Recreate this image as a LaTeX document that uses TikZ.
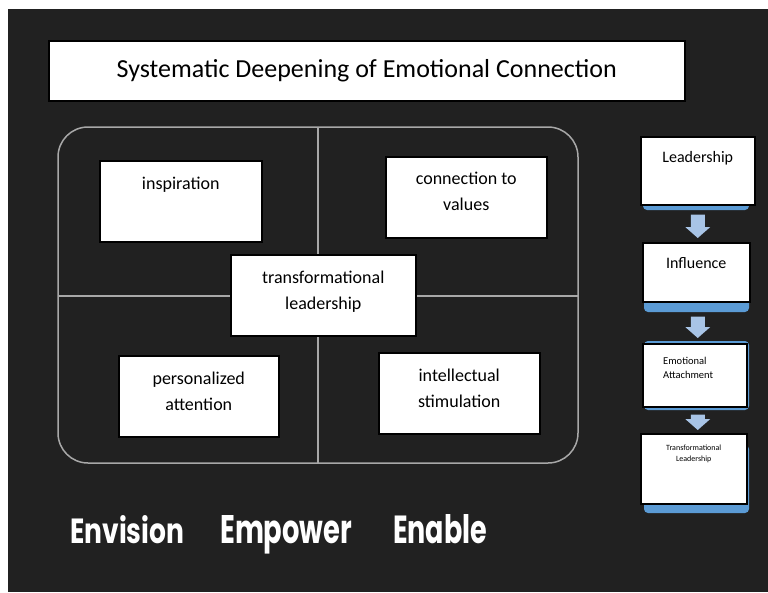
\documentclass[tikz,border=0pt]{standalone}
\usepackage{fontspec}
\setmainfont{Carlito}
\newfontfamily\envfont{Poppins}
\usetikzlibrary{calc}
\definecolor{bg}{RGB}{33,33,33}
\definecolor{gridc}{RGB}{168,168,168}
\definecolor{shadowblue}{RGB}{91,155,213}
\definecolor{arrowblue}{RGB}{168,196,230}
\newcommand{\blockarrow}[2]{%
  \fill[arrowblue] ($(#1)+(-7,0)$) -- ($(#2)+(-7,-11)$) -- ($(#2)+(-12.5,-11)$) -- (#2)
    -- ($(#2)+(12.5,-11)$) -- ($(#2)+(7,-11)$) -- ($(#1)+(7,0)$) -- cycle;}
\begin{document}
\begin{tikzpicture}[x=1pt,y=-1pt,
  wbox/.style={draw=black, line width=1.5pt, fill=white, inner sep=0pt, anchor=north west},
  bigtxt/.style={font=\fontsize{18}{26}\selectfont, align=center, anchor=base, inner sep=0pt},
  shadowbox/.style={fill=shadowblue, rounded corners=4pt},
  frame/.style={draw=gridc, line width=1.5pt},
  envtxt/.style={text=white, anchor=base west, inner sep=0pt}]
\useasboundingbox (0,0) rectangle (768,592);
\fill[white] (0,0) rectangle (768,592);
\fill[bg] (8,9) rectangle (768,592);

% title
\node[wbox, minimum width=636, minimum height=60, font=\fontsize{26}{30}\selectfont] (title) at (48,40) {Systematic Deepening of Emotional Connection};

% quadrant frame
\draw[frame, rounded corners=30pt] (58,127) rectangle (578,463);
\coordinate (vt) at (318,127); \coordinate (vb) at (318,463);
\coordinate (hl) at (58,296); \coordinate (hr) at (578,296);
\draw[frame] (vt) -- (vb);
\draw[frame] (hl) -- (hr);

% quadrant boxes (base anchor of multi-line text = last line)
\node[wbox, minimum width=162, minimum height=81] (insp) at (99,160) {};
\node[bigtxt] at ($(insp.north)+(0,29)$) {inspiration};
\node[wbox, minimum width=161, minimum height=81] (conn) at (385,156) {};
\node[bigtxt] at ($(conn.north)+(0,54.5)$) {connection to\\values};
\node[wbox, minimum width=160, minimum height=81] (pers) at (118,355) {};
\node[bigtxt] at ($(pers.north)+(0,55.5)$) {personalized\\attention};
\node[wbox, minimum width=161, minimum height=81] (intel) at (378,352) {};
\node[bigtxt] at ($(intel.north)+(0,55)$) {intellectual\\stimulation};
\node[wbox, minimum width=185, minimum height=81] (center) at (230,254) {};
\node[bigtxt] at ($(center.north)+(0,55)$) {transformational\\leadership};

% right column
\fill[shadowbox] (643,140) rectangle (749,210);
\node[wbox, minimum width=114, minimum height=68] (lead) at (640,136) {};
\node[anchor=base, inner sep=0pt, font=\fontsize{16}{19}\selectfont] at ($(lead.north)+(0,26)$) {Leadership};

\fill[shadowbox] (644,245) rectangle (749,312);
\node[wbox, minimum width=107, minimum height=59] (infl) at (642,242) {};
\node[anchor=base, inner sep=0pt, font=\fontsize{16}{19}\selectfont] at ($(infl.north)+(0,26)$) {Influence};

\fill[shadowbox] (644,341) rectangle (749,410);
\node[wbox, minimum width=104, minimum height=63] (emo) at (642,343) {};
\node[anchor=base west, inner sep=0pt, align=left, font=\fontsize{10.5}{14}\selectfont] at ($(emo.north west)+(21,35)$) {Emotional\\Attachment};

\fill[shadowbox] (644,445) rectangle (749,513);
\node[wbox, minimum width=106, minimum height=70] (trans) at (640,433) {};
\node[anchor=base, inner sep=0pt, align=center, font=\fontsize{8}{11}\selectfont] at ($(trans.north)+(0,28.5)$) {Transformational\\Leadership};

% block arrows
\coordinate (a1s) at ($(lead.south)+(0,9)$);
\coordinate (a1e) at ($(a1s |- infl.north)+(0,-4)$);
\coordinate (a2s) at ($(a1s |- infl.south)+(0,14)$);
\coordinate (a2e) at ($(a1s |- emo.north)+(0,-5)$);
\coordinate (a3s) at ($(a1s |- emo.south)+(0,7)$);
\coordinate (a3e) at ($(a1s |- trans.north)+(0,-3)$);
\blockarrow{a1s}{a1e}
\blockarrow{a2s}{a2e}
\blockarrow{a3s}{a3e}

% bottom words
\node[envtxt] (w1) at (70,543) {\resizebox{114pt}{28pt}{\envfont\bfseries Envision}};
\node[envtxt] (w2) at (220,543) {\resizebox{132pt}{28pt}{\envfont\bfseries Empower}};
\node[envtxt] (w3) at (393,543) {\resizebox{94pt}{29pt}{\envfont\bfseries Enable}};
\end{tikzpicture}
\end{document}
